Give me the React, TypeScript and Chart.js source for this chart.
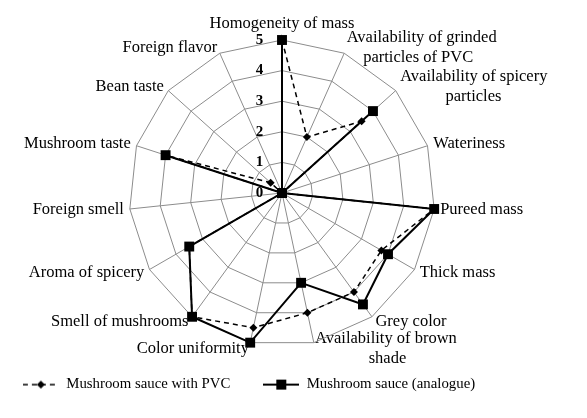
import React, { useEffect, useRef } from "react";
import { Chart, registerables } from "chart.js";

Chart.register(...registerables);

const LABELS: (string | string[])[] = [
  "Homogeneity of mass",
  ["Availability of grinded", "    particles of PVC"],
  ["Availability of spicery", "           particles"],
  "Wateriness",
  "Pureed mass",
  "Thick mass",
  "Grey color",
  ["Availability of brown", "             shade"],
  "Color uniformity",
  "Smell of mushrooms",
  "Aroma of spicery",
  "Foreign smell",
  "Mushroom taste",
  "Bean taste",
  "Foreign flavor",
];

const PVC = [5, 2, 3.5, 0, 5, 3.75, 4, 4, 4.5, 5, 3.5, 0, 4, 0.5, 0];
const ANALOGUE = [5, 0, 4, 0, 5, 4, 4.5, 3, 5, 5, 3.5, 0, 4, 0, 0];
const TICKS = [0, 1, 2, 3, 4, 5];
const SERIES_NAMES = ["Mushroom sauce with PVC", "Mushroom sauce (analogue)"];

const FONT = "'Liberation Serif', 'Times New Roman', serif";
const LABEL_SIZE = 16.5;
const LABEL_PAD = 6;

// plot geometry (layout only)
const CENTER_X = 282;
const CENTER_Y = 193;
const RADIUS = 153;

function makeMarker(dashed: boolean): HTMLCanvasElement {
  const c = document.createElement("canvas");
  c.width = 36;
  c.height = 12;
  const ctx = c.getContext("2d")!;
  ctx.strokeStyle = "#000";
  ctx.fillStyle = "#000";
  ctx.lineWidth = dashed ? 1.5 : 2;
  if (dashed) ctx.setLineDash([5, 4]);
  ctx.beginPath();
  ctx.moveTo(0, 6);
  ctx.lineTo(36, 6);
  ctx.stroke();
  ctx.setLineDash([]);
  if (dashed) {
    ctx.beginPath();
    ctx.moveTo(18, 2);
    ctx.lineTo(22, 6);
    ctx.lineTo(18, 10);
    ctx.lineTo(14, 6);
    ctx.closePath();
    ctx.fill();
  } else {
    ctx.fillRect(13, 1, 10, 10);
  }
  return c;
}

export default function App() {
  const ref = useRef<HTMLCanvasElement | null>(null);

  useEffect(() => {
    if (!ref.current) return;
    const markers = [makeMarker(true), makeMarker(false)];
    const chart = new Chart(ref.current, {
      type: "radar",
      data: {
        labels: LABELS,
        datasets: [
          {
            label: SERIES_NAMES[0],
            data: PVC,
            borderColor: "#000",
            backgroundColor: "#000",
            borderWidth: 1.5,
            borderDash: [5, 4],
            fill: false,
            pointStyle: "rectRot",
            pointRadius: 4,
            pointBorderWidth: 0,
            pointBackgroundColor: "#000",
          },
          {
            label: SERIES_NAMES[1],
            data: ANALOGUE,
            borderColor: "#000",
            backgroundColor: "#000",
            borderWidth: 2,
            fill: false,
            pointStyle: "rect",
            pointRadius: 7,
            pointBorderWidth: 0,
            pointBackgroundColor: "#000",
          },
        ],
      },
      options: {
        animation: false,
        responsive: true,
        maintainAspectRatio: false,
        layout: { padding: { left: -44, right: 45, top: 10, bottom: 16 } },
        elements: { line: { tension: 0 } },
        plugins: {
          tooltip: { enabled: false },
          legend: {
            position: "bottom",
            labels: {
              usePointStyle: true,
              pointStyleWidth: 36,
              padding: 33,
              color: "#000",
              font: { family: FONT, size: 14.8 },
              generateLabels: (ch: any) =>
                ch.data.datasets.map((ds: any, i: number) => ({
                  text: ds.label,
                  pointStyle: markers[i],
                  fillStyle: "#000",
                  strokeStyle: "#000",
                  lineWidth: 0,
                  hidden: false,
                  datasetIndex: i,
                  fontColor: "#000",
                })),
            },
          },
        },
        scales: {
          r: {
            min: -0.001,
            max: 5,
            beforeFit: (scale: any) => {
              scale.setCenterPoint = function () {
                this.xCenter = CENTER_X;
                this.yCenter = CENTER_Y;
                this.drawingArea = RADIUS;
              };
            },
            afterFit: (scale: any) => {
              const items = scale._pointLabelItems || [];
              const lh = LABEL_SIZE * 1.2;
              items.forEach((item: any, i: number) => {
                const lbl = scale._pointLabels[i];
                const n = Array.isArray(lbl) ? lbl.length : 1;
                const h = n * lh;
                const p = scale.getPointPosition(i, scale.drawingArea + LABEL_PAD);
                item.x = p.x;
                item.y = i === 0 ? p.y - h : p.y - h / 2;
              });
            },
            afterBuildTicks: (scale: any) => {
              scale.ticks = TICKS.map((v) => ({ value: v }));
            },
            grid: { color: "#8c8c8c", lineWidth: 1 },
            angleLines: { color: "#8c8c8c", lineWidth: 1 },
            ticks: {
              showLabelBackdrop: false,
              color: "#000",
              font: { family: FONT, size: 15, weight: "bold" },
              callback: (v: any) => `${v}` + "\u2002".repeat(6),
            },
            pointLabels: {
              color: "#000",
              padding: LABEL_PAD,
              font: { family: FONT, size: LABEL_SIZE },
            },
          },
        },
      },
    } as any);
    return () => chart.destroy();
  }, []);

  return (
    <div style={{ position: "fixed", left: 0, top: 0, width: 587, height: 418, background: "#fff" }}>
      <canvas ref={ref} />
    </div>
  );
}
